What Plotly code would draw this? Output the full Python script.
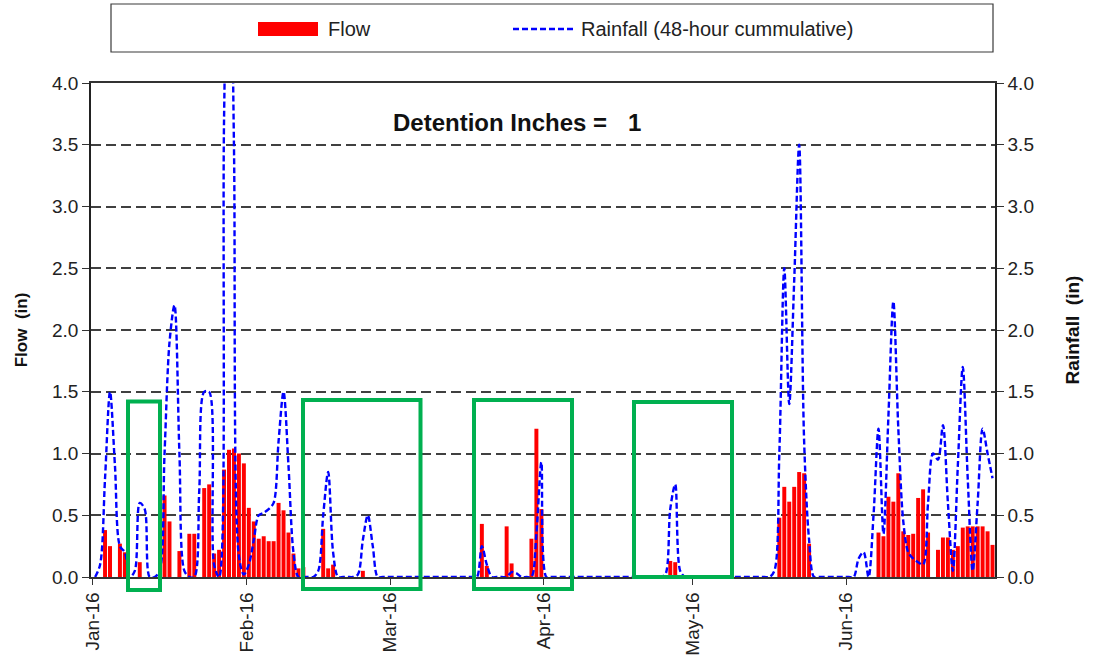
import pandas as pd
import plotly.graph_objects as go

# ---------------- data (daily values, 2016-01-01 .. 2016-06-30) ----------------
start_date = "2016-01-01"
end_date = "2016-06-30"

flow_jan = [0, 0, 0.38, 0.25, 0, 0.27, 0.20, 0, 0, 0.12, 0, 0, 0, 0, 0.66, 0.45,
            0, 0.21, 0, 0.35, 0.35, 0, 0.72, 0.75, 0.19, 0.22, 0.87, 1.03, 1.04, 1.00, 0.92]
flow_feb = [0.56, 0.45, 0.31, 0.33, 0.29, 0.29, 0.60, 0.54, 0.36, 0.19, 0.07, 0.08,
            0, 0, 0, 0.39, 0.07, 0.10, 0, 0, 0, 0, 0, 0.05, 0, 0, 0, 0, 0]
flow_mar = [0, 0, 0, 0, 0, 0, 0, 0, 0, 0, 0, 0, 0, 0, 0, 0, 0, 0, 0.43, 0.09,
            0, 0, 0, 0.41, 0.11, 0, 0, 0, 0.31, 1.20, 0.55]
flow_apr = [0, 0, 0, 0, 0, 0, 0, 0, 0, 0, 0, 0, 0, 0, 0, 0, 0, 0, 0, 0,
            0, 0, 0, 0, 0, 0.13, 0.12, 0, 0, 0]
flow_may = [0, 0, 0, 0, 0, 0, 0, 0, 0, 0, 0, 0, 0, 0, 0, 0, 0, 0.48, 0.73, 0.61,
            0.73, 0.85, 0.84, 0.27, 0, 0, 0, 0, 0, 0, 0]
flow_jun = [0, 0, 0, 0, 0, 0, 0.36, 0.33, 0.65, 0.61, 0.84, 0.37, 0.34, 0.35, 0.64,
            0.71, 0.36, 0, 0.22, 0.32, 0.32, 0.22, 0.25, 0.40, 0.41, 0.41, 0.41, 0.41, 0.37, 0.26]

rain_jan = [0, 0.1, 0.8, 1.5, 0.9, 0.25, 0.2, 0, 0.05, 0.6, 0.55, 0, 0, 0.05, 1.0, 1.9,
            2.2, 1.0, 0.05, 0, 0, 0.7, 1.5, 1.5, 0.1, 0, 3.7, 6.0, 3.5, 0.17, 0.02]
rain_feb = [0.1, 0.3, 0.5, 0.52, 0.55, 0.6, 1.1, 1.5, 0.9, 0.2, 0, 0, 0, 0, 0.05, 0.5,
            0.85, 0.2, 0, 0, 0, 0, 0.02, 0.3, 0.5, 0.25, 0, 0, 0]
rain_mar = [0, 0, 0, 0, 0, 0, 0, 0, 0, 0, 0, 0, 0, 0, 0, 0, 0, 0, 0.25, 0.1,
            0, 0, 0, 0, 0.04, 0.03, 0, 0, 0, 0.35, 0.93]
rain_apr = [0, 0, 0, 0, 0, 0, 0, 0, 0, 0, 0, 0, 0, 0, 0, 0, 0, 0, 0, 0,
            0, 0, 0, 0, 0.02, 0.55, 0.75, 0.05, 0, 0]
rain_may = [0, 0, 0, 0, 0, 0, 0, 0, 0, 0, 0, 0, 0, 0, 0, 0, 0.05, 1.0, 2.5, 1.4,
            2.4, 3.5, 1.1, 0.3, 0, 0, 0, 0, 0, 0, 0]
rain_jun = [0, 0, 0.15, 0.2, 0, 0.5, 1.2, 0.35, 1.3, 2.23, 1.2, 0.45, 0.2, 0.15, 0.12,
            0.1, 0.6, 1.0, 0.95, 1.23, 0.6, 0.05, 0.9, 1.7, 0.8, 0.05, 0.6, 1.2, 1.0, 0.8]

tick_dates = ["2016-01-01", "2016-02-01", "2016-03-01", "2016-04-01", "2016-05-01", "2016-06-01"]
tick_labels = ["Jan-16", "Feb-16", "Mar-16", "Apr-16", "May-16", "Jun-16"]

flow_name = "Flow"
rain_name = "Rainfall (48-hour cummulative)"

# ---------------- build ----------------
dates = pd.date_range(start_date, end_date, freq="D")
flow = flow_jan + flow_feb + flow_mar + flow_apr + flow_may + flow_jun
rain = rain_jan + rain_feb + rain_mar + rain_apr + rain_may + rain_jun

FONT = "Liberation Sans, Arial, sans-serif"
DAY_MS = 86400000
DASH = "6px,3px"

fig = go.Figure()
fig.add_trace(go.Bar(
    x=dates, y=flow, name=flow_name,
    xperiod=DAY_MS, xperiodalignment="middle",
    marker=dict(color="#FF0000", line=dict(width=0)),
    showlegend=False,
))
fig.add_trace(go.Scatter(
    x=dates, y=rain, name=rain_name, yaxis="y2", mode="lines",
    xperiod=DAY_MS, xperiodalignment="middle",
    line=dict(color="#0000FF", width=2.4, dash=DASH, shape="spline", smoothing=0.9),
    showlegend=False,
))

W, H = 1098, 668
# plot area in window pixels: x 91..995, y 83..577
PX0, PX1, PY0, PY1 = 91, 995, 83, 577
L, R = PX0, W - PX1
T, B = PY0, H - PY1
PW, PH = PX1 - PX0, PY1 - PY0


def px(x):
    return (x - PX0) / PW


def py(y):
    return (PY1 - y) / PH


shapes = []
# green highlight boxes
for x0, x1, y0, y1 in [(128, 160, 401.5, 590), (303, 420.5, 400, 589),
                       (474, 572, 400, 589), (634, 732, 402, 577)]:
    shapes.append(dict(type="rect", xref="paper", yref="paper",
                       x0=px(x0), x1=px(x1), y0=py(y1), y1=py(y0),
                       line=dict(color="#00B050", width=4), fillcolor="rgba(0,0,0,0)",
                       layer="above"))
# legend frame and swatches
shapes.append(dict(type="rect", xref="paper", yref="paper",
                   x0=px(111), x1=px(993), y0=py(52), y1=py(4),
                   line=dict(color="#3a3a3a", width=1.2), fillcolor="white", layer="above"))
shapes.append(dict(type="rect", xref="paper", yref="paper",
                   x0=px(258), x1=px(318), y0=py(36), y1=py(22),
                   line=dict(width=0), fillcolor="#FF0000", layer="above"))
shapes.append(dict(type="line", xref="paper", yref="paper",
                   x0=px(513), x1=px(573), y0=py(29), y1=py(29),
                   line=dict(color="#0000FF", width=2.4, dash=DASH), layer="above"))

annotations = [
    dict(text=flow_name, xref="paper", yref="paper", x=px(326), y=py(29),
         xanchor="left", yanchor="middle", showarrow=False,
         font=dict(family=FONT, size=20, color="#222")),
    dict(text=rain_name, xref="paper", yref="paper", x=px(579), y=py(29),
         xanchor="left", yanchor="middle", showarrow=False,
         font=dict(family=FONT, size=20, color="#222")),
    dict(text="<b>Detention Inches =</b>", xref="paper", yref="paper", x=px(500), y=py(122),
         xanchor="center", yanchor="middle", showarrow=False,
         font=dict(family=FONT, size=24, color="#111")),
    dict(text="<b>1</b>", xref="paper", yref="paper", x=px(634), y=py(122),
         xanchor="center", yanchor="middle", showarrow=False,
         font=dict(family=FONT, size=24, color="#111")),
]

fig.update_layout(
    width=W, height=H,
    margin=dict(l=L, r=R, t=T, b=B, autoexpand=False),
    paper_bgcolor="white", plot_bgcolor="white",
    font=dict(family=FONT, color="#222"),
    bargap=0.2,
    shapes=shapes,
    annotations=annotations,
    xaxis=dict(
        type="date",
        range=["2015-12-31 16:00", "2016-07-01 00:00"],
        tickvals=tick_dates, ticktext=tick_labels, tickangle=-90,
        ticks="outside", ticklen=6, tickcolor="#333", tickwidth=1.2,
        showline=True, linecolor="#333", linewidth=1.5, mirror=True,
        showgrid=False, zeroline=False,
        tickfont=dict(family=FONT, size=19, color="#222"),
    ),
    yaxis=dict(
        range=[0, 4], dtick=0.5, tick0=0, tickformat=".1f",
        ticks="outside", ticklen=7, tickcolor="#333", tickwidth=1.2,
        showline=True, linecolor="#222", linewidth=1.5,
        showgrid=True, gridcolor="#404040", gridwidth=1.5, griddash="10px,5px",
        zeroline=False,
        tickfont=dict(family=FONT, size=19, color="#222"),
        title=dict(text="<b>Flow  (in)</b>", standoff=20,
                   font=dict(family=FONT, size=17, color="#111")),
    ),
    yaxis2=dict(
        overlaying="y", side="right",
        range=[0, 4], dtick=0.5, tick0=0, tickformat=".1f",
        ticks="outside", ticklen=7, tickcolor="#333", tickwidth=1.2,
        showline=True, linecolor="#222", linewidth=1.5,
        showgrid=False, zeroline=False,
        tickfont=dict(family=FONT, size=19, color="#222"),
        title=dict(text="<b>Rainfall  (in)</b>", standoff=33,
                   font=dict(family=FONT, size=19, color="#111")),
    ),
)

fig.write_html("out.html", config={"displayModeBar": False},
               post_script="document.body.style.margin='0';")
